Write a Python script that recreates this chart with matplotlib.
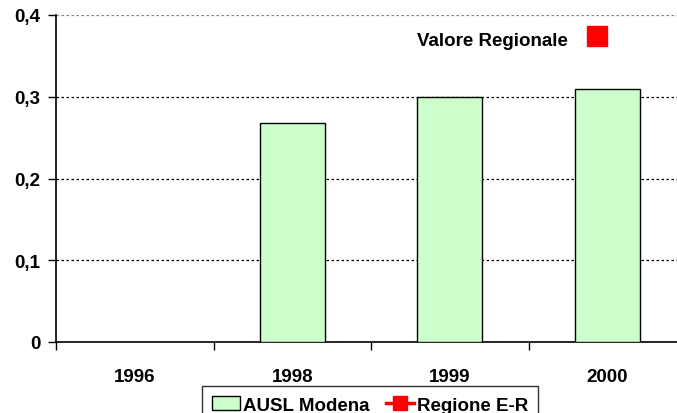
import matplotlib
matplotlib.use("Agg")
import matplotlib.pyplot as plt
import matplotlib.transforms as mtransforms
from matplotlib.lines import Line2D
from matplotlib.patches import Patch

plt.rcParams['font.family'] = ['Liberation Sans', 'DejaVu Sans']
plt.rcParams['font.weight'] = 'bold'

years = ['1996', '1998', '1999', '2000']
ausl_modena = [None, 0.268, 0.30, 0.31]
regione_er_year = '2000'
regione_er_value = 0.374
y_ticks = [0, 0.1, 0.2, 0.3, 0.4]
y_tick_labels = ['0', '0,1', '0,2', '0,3', '0,4']

FS = 13.5
W, H = 677, 414
fig = plt.figure(figsize=(W / 100, H / 100), dpi=100)
ax = fig.add_axes([56 / W, 71 / H, 630 / W, 327 / H])

x = list(range(len(years)))
for xi, v in zip(x, ausl_modena):
    if v is not None:
        ax.bar(xi, v, width=0.41, color='#ccffcc', edgecolor='black', linewidth=1.0, zorder=3)

# Regional value marker
off = mtransforms.ScaledTranslation(-10 / 100, 0, fig.dpi_scale_trans)
ax.plot([years.index(regione_er_year)], [regione_er_value], marker='s', markersize=14,
        color='#ff0000', linestyle='none', transform=ax.transData + off, zorder=4, clip_on=False)

ax.set_xlim(-0.5, len(years) - 0.5)
ax.set_ylim(0, 0.4)

# gridlines
for yv in y_ticks[1:]:
    col = '#808080' if yv == 0.4 else 'black'
    ax.axhline(yv, color=col, linestyle=(0, (2, 2)), linewidth=0.9, zorder=1)

ax.set_yticks(y_ticks)
ax.set_yticklabels(y_tick_labels, fontsize=FS, fontweight='bold')
ax.tick_params(axis='y', direction='out', length=6, width=1, pad=5)

# category ticks at boundaries, labels at centers
ax.set_xticks([i + 0.5 for i in x[:-1]] + [-0.5])
ax.set_xticklabels([])
ax.tick_params(axis='x', which='major', direction='out', length=6, width=1)
ax.set_xticks(x, minor=True)
ax.set_xticklabels(years, minor=True, fontsize=FS, fontweight='bold')
ax.tick_params(axis='x', which='minor', length=0, pad=19)

for s in ['top', 'right']:
    ax.spines[s].set_visible(False)
ax.spines['left'].set_linewidth(1.2)
ax.spines['bottom'].set_linewidth(1.2)

fig.text(417 / W, 1 - 41 / H, 'Valore Regionale', fontsize=FS, fontweight='bold', va='center', ha='left')

handles = [Patch(facecolor='#ccffcc', edgecolor='black', linewidth=1.0),
           Line2D([0], [0], color='#ff0000', marker='s', markersize=10, linewidth=2.5)]
leg = fig.legend(handles, ['AUSL Modena', 'Regione E-R'], loc='upper left',
                 bbox_to_anchor=(202 / W, 1 - 387 / H), ncol=2, frameon=True, fancybox=False,
                 edgecolor='black', fontsize=FS, borderpad=0.55, handlelength=1.5,
                 handleheight=0.75, handletextpad=0.15, columnspacing=0.85, borderaxespad=0)
leg.get_frame().set_linewidth(1.0)
for t in leg.get_texts():
    t.set_fontweight('bold')

fig.savefig('out.png', dpi=100)
